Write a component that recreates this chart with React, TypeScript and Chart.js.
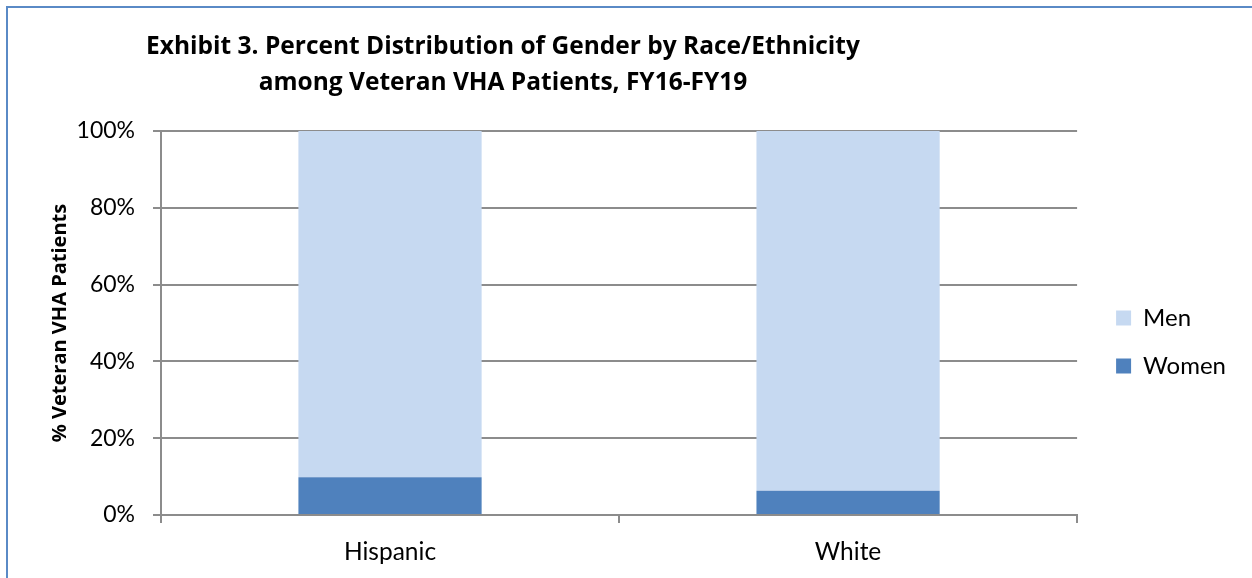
import React, { useEffect, useRef } from "react";
import { Chart, registerables } from "chart.js";

Chart.register(...registerables);

const categories = ["Hispanic", "White"];
const womenValues = [9.8, 6.3];
const menValues = [90.2, 93.7];
const yTicks = [0, 20, 40, 60, 80, 100];
const titleLines = [
  "Exhibit 3. Percent Distribution of Gender by Race/Ethnicity",
  "among Veteran VHA Patients, FY16-FY19",
];
const yAxisTitle = "% Veteran VHA Patients";

const FONT = "Lato";
const TITLE_FONT = "'Open Sans'";
const GRID = "#8c8c8c";

const titlePlugin = {
  id: "customTitle",
  afterDraw(chart: any) {
    const ctx = chart.ctx;
    ctx.save();
    ctx.fillStyle = "#000";
    ctx.font = `bold 24.5px ${TITLE_FONT}`;
    ctx.textAlign = "center";
    ctx.textBaseline = "alphabetic";
    ctx.fillText(titleLines[0], 503, 54);
    ctx.fillText(titleLines[1], 503, 89.5);
    ctx.restore();
  },
};

export default function App() {
  const ref = useRef<HTMLCanvasElement | null>(null);
  useEffect(() => {
    document.body.style.margin = "0";
    const canvas = ref.current!;
    const chart = new Chart(canvas, {
      type: "bar",
      data: {
        labels: categories,
        datasets: [
          {
            label: "Women",
            data: womenValues,
            backgroundColor: "#4F81BD",
            barPercentage: 0.4,
            categoryPercentage: 1.0,
          },
          {
            label: "Men",
            data: menValues,
            backgroundColor: "#C6D9F1",
            barPercentage: 0.4,
            categoryPercentage: 1.0,
          },
        ],
      },
      options: {
        animation: false,
        responsive: false,
        maintainAspectRatio: false,
        layout: { padding: { top: 131, left: 0, right: 16, bottom: 0 } },
        plugins: {
          title: { display: false },
          tooltip: { enabled: false },
          legend: {
            display: true,
            position: "right",
            fullSize: false,
            reverse: true,
            title: {
              display: true,
              text: " ",
              font: { size: 10 },
              padding: { top: 13, bottom: 13 },
            },
            labels: {
              boxWidth: 15,
              boxHeight: 15,
              padding: 24,
              color: "#000",
              font: { family: FONT, size: 24 },
            },
          },
        },
        scales: {
          x: {
            stacked: true,
            grid: {
              offset: true,
              drawOnChartArea: false,
              drawTicks: true,
              tickLength: 8,
              color: GRID,
              lineWidth: 2,
            },
            border: { display: true, color: GRID, width: 2 },
            ticks: { color: "#000", font: { family: FONT, size: 24.5 }, padding: 14 },
            afterFit: (s: any) => {
              s.height = 63;
            },
          },
          y: {
            stacked: true,
            min: 0,
            max: 100,
            afterBuildTicks: (s: any) => {
              s.ticks = yTicks.map((v) => ({ value: v }));
            },
            ticks: {
              color: "#000",
              font: { family: FONT, size: 23 },
              padding: 18,
              callback: (v: any) => v + "%",
            },
            grid: { color: GRID, lineWidth: 2, drawTicks: true, tickLength: 8 },
            border: { display: true, color: GRID, width: 2 },
            title: {
              display: true,
              text: yAxisTitle,
              color: "#000",
              font: { family: TITLE_FONT, size: 20, weight: "bold" },
              padding: { top: 48, bottom: 0 },
            },
            afterFit: (s: any) => {
              s.width = 161;
            },
          },
          spacer: {
            type: "linear",
            position: "right",
            display: true,
            grid: { display: false, drawTicks: false },
            ticks: { display: false },
            border: { display: false },
            afterFit: (s: any) => {
              s.width = 15;
            },
          },
        },
      } as any,
      plugins: [titlePlugin],
    });
    return () => chart.destroy();
  }, []);

  return (
    <div style={{ position: "relative", width: 1252, height: 578, overflow: "hidden", background: "#fff" }}>
      <div
        style={{
          position: "absolute",
          left: 6,
          top: 6,
          width: 1400,
          height: 700,
          border: "2px solid #5A8AC6",
          boxSizing: "border-box",
        }}
      />
      <canvas ref={ref} width={1252} height={578} style={{ position: "absolute", left: 0, top: 0 }} />
    </div>
  );
}
